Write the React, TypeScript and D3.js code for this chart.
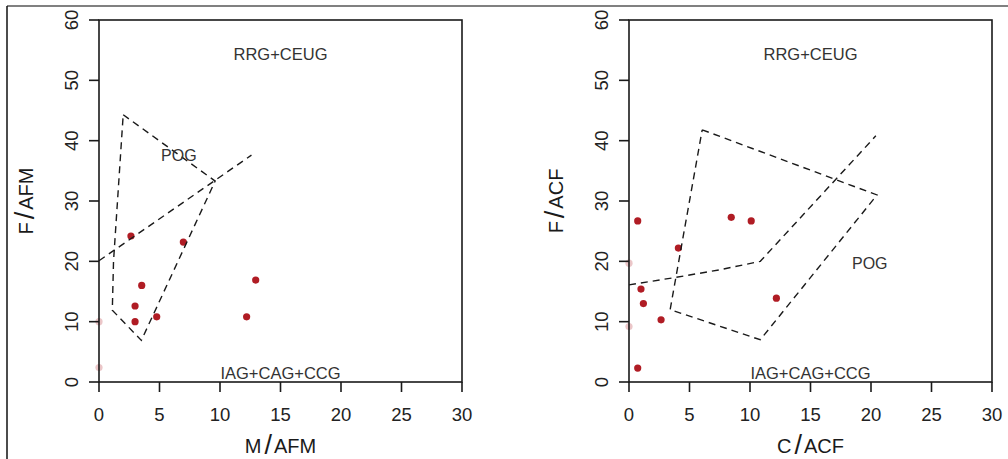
import * as d3 from 'd3'

const xTicks = [0, 5, 10, 15, 20, 25, 30]
const yTicks = [0, 10, 20, 30, 40, 50, 60]

// M/AFM vs F/AFM samples
const afmM = [0, 0, 2.64, 6.97, 3.53, 2.98, 2.98, 4.77, 12.2, 12.95]
const afmF = [10.0, 2.4, 24.2, 23.2, 16.0, 12.6, 10.0, 10.8, 10.8, 16.9]

// C/ACF vs F/ACF samples
const acfC = [0, 0, 0.72, 8.45, 10.1, 4.08, 0.99, 1.19, 2.65, 12.18, 0.72]
const acfF = [19.7, 9.2, 26.7, 27.3, 26.7, 22.2, 15.4, 13.0, 10.3, 13.9, 2.3]

// field boundaries (dashed)
const afmPogX = [2.0, 9.6, 3.5, 1.1, 1.2, 2.0]
const afmPogY = [44.3, 33.3, 6.9, 11.9, 20.0, 44.3]
const afmSplitX = [0, 12.6]
const afmSplitY = [20.1, 37.6]

const acfPogX = [6.05, 20.5, 10.85, 3.4, 6.05]
const acfPogY = [41.8, 31.0, 7.0, 12.0, 41.8]
const acfSplitX = [0, 3.9, 7.5, 10.85, 20.4]
const acfSplitY = [16.1, 17.35, 18.6, 20.0, 40.8]

const FONT = '"Liberation Sans", Arial, sans-serif'
const INK = '#1a1a1a'
const DOT = '#b01c24'

type PanelProps = {
  x0: number
  xs: number[]
  ys: number[]
  pogX: number[]
  pogY: number[]
  splitX: number[]
  splitY: number[]
  xName: string
  yName: string
  pogAt: [number, number]
}

function SlashLabel({ a, b, ...rest }: any) {
  return (
    <text {...rest} fontFamily={FONT} fill={INK} fontSize={20}>
      {a}
      <tspan fontSize={27} dx={3} dy={1}>/</tspan>
      <tspan dx={2} dy={-1}>{b}</tspan>
    </text>
  )
}

function Panel({ x0, xs, ys, pogX, pogY, splitX, splitY, xName, yName, pogAt }: PanelProps) {
  const x = d3.scaleLinear().domain([0, 30]).range([x0, x0 + 363])
  const y = d3.scaleLinear().domain([0, 60]).range([382, 20])
  const path = (px: number[], py: number[]) =>
    d3.line<number>().x(i => x(px[i])).y(i => y(py[i]))(d3.range(px.length)) || ''
  const [lo, hi] = x.range()
  const cx = (lo + hi) / 2
  const [ya, yb] = y.range()
  const [xl, xr] = xName.split('/')
  const [vl, vr] = yName.split('/')
  return (
    <g>
      {/* points sitting on the axis come out faint */}
      {xs.map((d, i) => (
        <circle key={i} cx={x(d)} cy={y(ys[i])} r={3.6} fill={DOT} opacity={d === 0 ? 0.25 : 1} />
      ))}
      <path d={path(pogX, pogY)} fill="none" stroke={INK} strokeWidth={1.4} strokeDasharray="7 5" />
      <path d={path(splitX, splitY)} fill="none" stroke={INK} strokeWidth={1.4} strokeDasharray="7 5" />
      <rect x={lo} y={yb} width={hi - lo} height={ya - yb} fill="none" stroke={INK} strokeWidth={1.6} />
      {xTicks.map(t => (
        <g key={'x' + t}>
          <line x1={x(t)} x2={x(t)} y1={ya} y2={ya + 10} stroke={INK} strokeWidth={1.6} />
          <text x={x(t)} y={421} textAnchor="middle" fontFamily={FONT} fontSize={18.5} fill="#222">{t}</text>
        </g>
      ))}
      {yTicks.map(t => (
        <g key={'y' + t}>
          <line x1={lo - 10} x2={lo} y1={y(t)} y2={y(t)} stroke={INK} strokeWidth={1.6} />
          <text transform={`translate(${lo - 21},${y(t)}) rotate(-90)`} textAnchor="middle"
            fontFamily={FONT} fontSize={18.5} fill="#222">{t}</text>
        </g>
      ))}
      <text x={cx} y={60} textAnchor="middle" fontFamily={FONT} fontSize={16.5} fill="#333">RRG+CEUG</text>
      <text x={cx} y={379} textAnchor="middle" fontFamily={FONT} fontSize={16.5} fill="#333">IAG+CAG+CCG</text>
      <text x={x(pogAt[0])} y={y(pogAt[1])} textAnchor="middle" fontFamily={FONT} fontSize={16} fill="#333">POG</text>
      <SlashLabel a={xl} b={xr} x={cx} y={453} textAnchor="middle" />
      <SlashLabel a={vl} b={vr} textAnchor="middle" transform={`translate(${lo - 66},${(ya + yb) / 2}) rotate(-90)`} />
    </g>
  )
}

export default function App() {
  return (
    <svg width={1008} height={459} style={{ position: 'absolute', left: 0, top: 0, background: '#fff' }}>
      <rect width={1008} height={459} fill="#fff" />
      <line x1={7} x2={1008} y1={6} y2={6} stroke="#808080" strokeWidth={2} />
      <line x1={7} x2={7} y1={6} y2={459} stroke="#111" strokeWidth={1.5} />
      <Panel x0={99} xs={afmM} ys={afmF} pogX={afmPogX} pogY={afmPogY} splitX={afmSplitX} splitY={afmSplitY}
        xName="M/AFM" yName="F/AFM" pogAt={[6.6, 36.6]} />
      <Panel x0={629} xs={acfC} ys={acfF} pogX={acfPogX} pogY={acfPogY} splitX={acfSplitX} splitY={acfSplitY}
        xName="C/ACF" yName="F/ACF" pogAt={[19.9, 18.8]} />
    </svg>
  )
}
